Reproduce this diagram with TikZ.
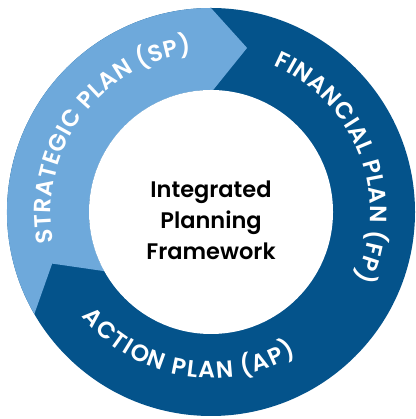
\documentclass[tikz,border=0pt]{standalone}
\usepackage{fontspec}
\setmainfont{Poppins}[BoldFont={Poppins SemiBold}]
\usetikzlibrary{decorations.text}
\definecolor{darkblue}{HTML}{04538B}
\definecolor{lightblue}{HTML}{6EA9DB}
\newcommand\ringfont{\bfseries\fontsize{23.5}{23.5}\selectfont\color{white}}
\tikzstyle{ringlabel} = [decorate, decoration={text along path, text align=fit to path}]
\tikzstyle{titletext} = [align=center, font=\bfseries\fontsize{22.5}{31}\selectfont, text=black]

\begin{document}
\begin{tikzpicture}[x=1pt,y=1pt]
    \useasboundingbox (0,0) rectangle (415,419);
    \coordinate (c) at (211,207);

    % ring, dark part first, light arrow on top
    \fill[darkblue] (c) circle[radius=204];
    \fill[lightblue] ([shift={(210:204)}]c) arc[start angle=210, end angle=90, radius=204]
        -- ([shift={(77.6:168)}]c) -- ([shift={(89:122)}]c)
        arc[start angle=89, end angle=209, radius=122]
        -- ([shift={(198:167)}]c) -- cycle;
    \fill[white] (c) circle[radius=122];

    \path[ringlabel, decoration={text={|\ringfont|STRATEGIC PLAN (SP)}}]
        ([shift={(191:160)}]c) arc[start angle=191, end angle=97, radius=160];
    \path[ringlabel, decoration={text={|\ringfont|FINANCIAL PLAN (FP)}}]
        ([shift={(67:159)}]c) arc[start angle=67, end angle=-25, radius=159];
    \path[ringlabel, decoration={text={|\ringfont|ACTION PLAN (AP)}}]
        ([shift={(219:166)}]c) arc[start angle=219, end angle=301, radius=166];

    \node[titletext] (title) at ([yshift=-8]c) {Integrated\\Planning\\Framework};
\end{tikzpicture}
\end{document}
